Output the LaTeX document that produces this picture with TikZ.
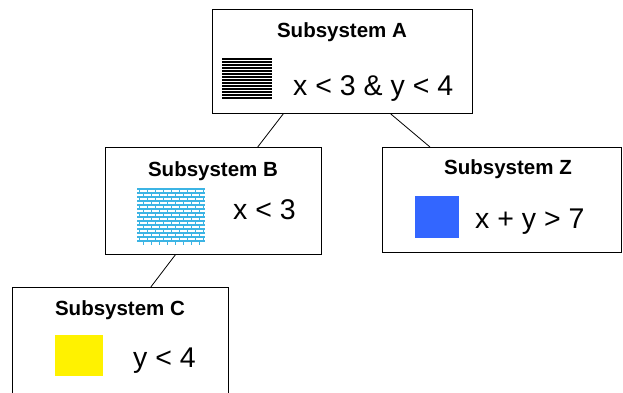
\documentclass[tikz,border=0pt]{standalone}
\usepackage{fontspec}
\setmainfont{Liberation Sans}
\usetikzlibrary{calc}
\definecolor{brickblue}{RGB}{60,180,228}
\definecolor{zblue}{RGB}{51,102,255}
\tikzset{
  sysbox/.style={draw=black, line width=0.9pt, fill=white, rectangle, inner sep=0pt, anchor=north west},
  systitle/.style={font=\fontsize{20.5}{24}\selectfont\bfseries, inner sep=0pt, anchor=base},
  sysexpr/.style={font=\fontsize{28.5}{32}\selectfont, inner sep=0pt, anchor=base west},
  link/.style={draw=black, line width=0.8pt},
  swatch/.style={inner sep=0pt, anchor=north west, draw=none}
}
\begin{document}
\begin{tikzpicture}[x=1pt, y=-1pt]
\clip (0,0) rectangle (623,392);
\fill[white] (0,0) rectangle (623,392);

% subsystem frames
\node[sysbox, minimum width=260pt, minimum height=104pt] (A) at (212,9) {};
\node[sysbox, minimum width=216pt, minimum height=107pt] (B) at (105,147) {};
\node[sysbox, minimum width=239pt, minimum height=105pt] (Z) at (382,147) {};
\node[sysbox, minimum width=216pt, minimum height=120pt] (C) at (12,287) {};

% tree links
\draw[link] ($(A.south west)!0.273!(A.south east)$) -- ($(B.north west)!0.704!(B.north east)$);
\draw[link] ($(A.south west)!0.685!(A.south east)$) -- ($(Z.north west)!0.20!(Z.north east)$);
\draw[link] ($(B.south west)!0.324!(B.south east)$) -- ($(C.north west)!0.64!(C.north east)$);

% titles
\node[systitle] (tA) at (342,37) {Subsystem A};
\node[systitle] (tB) at (213,176) {Subsystem B};
\node[systitle] (tZ) at (508,174) {Subsystem Z};
\node[systitle] (tC) at (120,315) {Subsystem C};

% conditions
\node[sysexpr] (eA) at (293,95) {x < 3 \& y < 4};
\node[sysexpr] (eB) at (233,219) {x < 3};
\node[sysexpr] (eZ) at (475,228) {x + y > 7};
\node[sysexpr] (eC) at (133,367) {y < 4};

% swatch: horizontal hatching
\node[swatch, minimum width=50pt, minimum height=42pt] (sA) at (222,58) {};
\foreach \k in {0,...,13}
  \draw[black, line width=1.7pt] ($(sA.north west)+(0,0.85+3*\k)$) -- ++(50,0);

% swatch: brick pattern
\node[swatch, minimum width=68pt, minimum height=56pt] (sB) at (137,188) {};
\begin{scope}
  \clip (sB.north west) rectangle (sB.south east);
  \foreach \r in {0,...,13} {
    \draw[brickblue, line width=1.5pt] ($(sB.north west)+(0,0.75+4*\r)$) -- ++(68,0);
    \pgfmathsetmacro{\off}{mod(\r,2)==0 ? 2.5 : 6.5}
    \foreach \j in {0,...,8}
      \draw[brickblue, line width=1pt] ($(sB.north west)+(\off+8*\j,0.75+4*\r)$) -- ++(0,4);
  }
\end{scope}

% swatches: solid colours
\node[swatch, fill=zblue, minimum width=44pt, minimum height=42pt] (sZ) at (415,196) {};
\node[swatch, fill=yellow, minimum width=48pt, minimum height=41pt] (sC) at (55,335) {};
\end{tikzpicture}
\end{document}
